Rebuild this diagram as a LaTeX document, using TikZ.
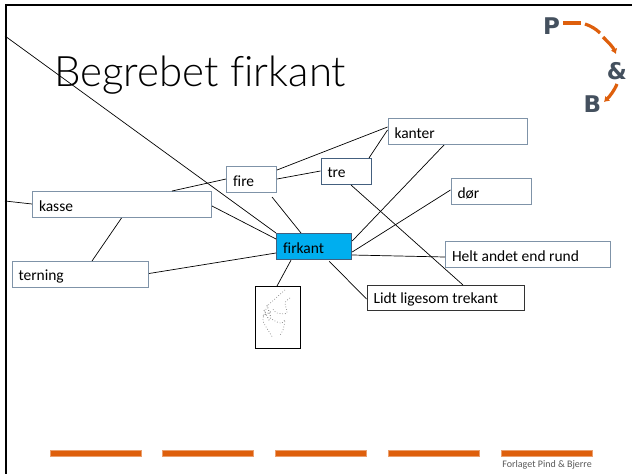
\documentclass[tikz,border=0pt]{standalone}
\usetikzlibrary{arrows.meta}
\usepackage{fontspec}
\setmainfont{Carlito}[Ligatures=NoCommon]
\newfontfamily\titlefont{Lato Light}[Ligatures=NoCommon]
\newfontfamily\logofont{DejaVu Sans}
\definecolor{boxedge}{HTML}{7F93A8}
\definecolor{boxdark}{HTML}{44607F}
\definecolor{bluefill}{HTML}{00AEEF}
\definecolor{orangeb}{HTML}{DE5F0C}
\definecolor{logoslate}{HTML}{44505E}
\tikzset{
  x=1pt,y=-1pt,
  lbl/.style={draw=boxedge,line width=1pt,fill=white,inner sep=0pt,anchor=north west,align=left},
  lbltext/.style={anchor=west,inner sep=0pt,font=\fontsize{15.5}{17}\selectfont},
  link/.style={draw=black,line width=0.7pt},
  bar/.style={draw=orangeb!60!white,line width=0.5pt,fill=orangeb},
  logoarrow/.style={draw=orangeb,line width=3.2pt},
  logotext/.style={font=\logofont\bfseries\fontsize{23}{23}\selectfont,text=logoslate,inner sep=0pt},
  sketch/.style={draw=black!50,line width=0.7pt,dotted},
}
\newcommand{\boxnode}[6]{%
  \node[lbl,minimum width=#4pt,minimum height=#5pt,#6] (#1) at (#2,#3) {};}
\begin{document}
\begin{tikzpicture}
\useasboundingbox (0,0) rectangle (632,474);
\fill[white] (0,0) rectangle (632,474);
% frame
\draw[black,line width=2pt] (5.5,474) -- (5.5,5) -- (632,5);
\node[anchor=base west,inner sep=0pt,font=\titlefont\fontsize{42}{44}\selectfont] (title) at (54,86) {Begrebet firkant};
% nodes
\boxnode{kasse}{32}{191}{179}{26}{}
\boxnode{terning}{11.5}{261}{136.5}{26}{}
\boxnode{fire}{226}{166}{50}{26}{}
\boxnode{tre}{320.5}{158}{50}{26}{draw=boxdark}
\boxnode{kanter}{387.5}{118}{139.5}{26}{}
\boxnode{door}{450.5}{178}{80}{26}{}
\boxnode{helt}{445}{241}{165}{26}{}
\boxnode{lidt}{366.5}{285}{157.5}{25}{draw=black!80}
\node[lbl,draw=boxdark,line width=1.2pt,fill=bluefill,minimum width=75pt,minimum height=26pt] (firkant) at (276,233) {};
\node[draw=black,line width=0.8pt,fill=white,anchor=north west,inner sep=0pt,minimum width=45.5pt,minimum height=62pt] (image) at (254.5,286) {};
% labels
\foreach \n/\t in {kasse/kasse,terning/terning,fire/fire,tre/tre,kanter/kanter,door/dør,helt/Helt andet end rund,lidt/Lidt ligesom trekant,firkant/firkant}
  \node[lbltext] at ([xshift=6.8pt,yshift=-1.5pt]\n.west) {\t};
% connectors
\coordinate (leftA) at (5,36);
\coordinate (leftB) at (5,201);
\draw[link] (leftA) -- (firkant.north west);
\draw[link] (leftB) -- ([yshift=-13pt]kasse.north west);
\draw[link] ([yshift=-13pt]fire.north west) -- ([xshift=140pt]kasse.north west);
\draw[link] ([yshift=-15pt]kasse.north east) -- ([yshift=-6pt]firkant.north west);
\draw[link] ([xshift=89.5pt]kasse.south west) -- ([xshift=80.5pt]terning.north west);
\draw[link] ([yshift=-12.5pt]terning.north east) -- ([yshift=-20pt]firkant.north west);
\draw[link] ([xshift=15pt]firkant.south west) -- ([xshift=22.5pt]image.north west);
\draw[link] ([xshift=-5pt,yshift=-4pt]fire.south east) -- ([xshift=25pt]firkant.north west);
\draw[link] ([yshift=-4pt]fire.north east) -- ([yshift=-9pt]kanter.north west);
\draw[link] ([yshift=-13pt]fire.north east) -- ([yshift=-13pt]tre.north west);
\draw[link] ([xshift=-2.5pt]tre.north east) -- ([yshift=-12pt]kanter.north west);
\draw[link] ([xshift=30.5pt]tre.south west) -- ([xshift=96.5pt]lidt.north west);
\draw[link] ([xshift=56.5pt]kanter.south west) -- ([yshift=-8pt]firkant.north east);
\draw[link] ([yshift=-12pt]door.north west) -- ([yshift=-19pt]firkant.north east);
\draw[link] ([yshift=-16pt]helt.north west) -- ([yshift=-22pt]firkant.north east);
\draw[link] ([yshift=-14pt]lidt.north west) -- ([xshift=-23pt,yshift=-1pt]firkant.south east);
% picture in the image box
\draw[sketch] plot[smooth] coordinates {(285,290) (276,298) (267,307) (263,320) (268,330) (273,338)};
\draw[sketch] plot[smooth] coordinates {(290,298) (285,303) (287,313) (277,313) (272,308)};
\draw[sketch] plot[smooth] coordinates {(270,318) (277,322) (282,323) (285,320) (283,330) (280,335)};
\draw[sketch,line width=1pt] (267,305) -- (271,318) (263,316) -- (272,311) (264,310) -- (270,322);
% logo
\node[logotext] (p) at (551.5,26.5) {P};
\node[logotext] (amp) at (617,71) {\&};
\node[logotext] (b) at (592.5,104.5) {B};
\draw[logoarrow] (563,23) -- (581,23);
\draw[logoarrow] (585,24) .. controls (591,26) and (596,29) .. (600,33);
\draw[logoarrow,-{Latex[length=5pt,width=7pt]}] (603,37) .. controls (608,42) and (613,47) .. (616,54);
\draw[logoarrow,-{Latex[length=5pt,width=7pt]}] (617,84) .. controls (614,91) and (610,96) .. (604,102);
% footer
\foreach \i/\x in {a/50,b/162.5,c/275,d/388,e/501}
  \draw[bar] (\x,450.5) rectangle ++(91,6) coordinate (bar\i);
\node[anchor=east,inner sep=0pt,font=\fontsize{10}{11}\selectfont,text=black!65] (credit) at (592,464.5) {Forlaget Pind \& Bjerre};
\end{tikzpicture}
\end{document}
